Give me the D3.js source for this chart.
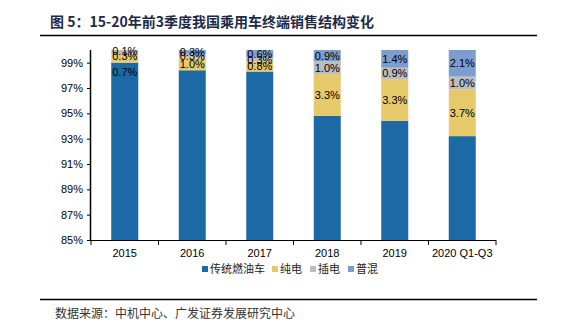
<!DOCTYPE html>
<html><head><meta charset="utf-8">
<script src="https://cdn.jsdelivr.net/npm/d3@7"></script>
<style>body{margin:0;background:#fff}svg{display:block}</style>
</head><body>
<svg id="c" width="573" height="335"></svg>
<script>
const categories = ["2015","2016","2017","2018","2019","2020 Q1-Q3"];
const seriesNames = ["传统燃油车","纯电","插电","普混"];
const oilValues = [99.0, 98.4, 98.3, 94.8, 94.4, 93.2];
const evValues  = [0.7, 1.0, 0.8, 3.3, 3.3, 3.7];
const phevValues= [0.3, 0.3, 0.3, 1.0, 0.9, 1.0];
const hevValues = [0.1, 0.3, 0.6, 0.9, 1.4, 2.1];
const yTicks = [85,87,89,91,93,95,97,99];
const colors = ["#1b6aa5","#e6c96b","#bdbdbd","#7d9dcf"];
const seriesValues = [oilValues, evValues, phevValues, hevValues];

(function(){
const svg = d3.select("#c");
const pLeft = 91, pRight = 496, pTop = 50, pBottom = 240;
const font = "'Liberation Sans', Arial, sans-serif";
const cjk = "'Noto Sans CJK SC', sans-serif";

// Title
svg.append("text").attr("x",50).attr("y",27).attr("font-family",cjk)
  .attr("font-size",14).attr("font-weight","bold").attr("fill","#1c2b4a")
  .text("图 5：15-20年前3季度我国乘用车终端销售结构变化");
svg.append("line").attr("x1",40).attr("x2",537).attr("y1",35.5).attr("y2",35.5)
  .attr("stroke","#000").attr("stroke-width",1.5);

const x = d3.scaleBand().domain(categories).range([pLeft,pRight]).paddingInner(0.6).paddingOuter(0.3);
const xOuter = d3.scaleBand().domain(categories).range([pLeft,pRight]);
const y = d3.scaleLinear().domain([85,100]).range([pBottom,pTop]);

const rows = categories.map((c,i)=>{const r={cat:c}; seriesNames.forEach((s,j)=>r[s]=seriesValues[j][i]); return r;});
const stacked = d3.stack().keys(seriesNames)(rows);

svg.append("defs").append("clipPath").attr("id","plot")
  .append("rect").attr("x",pLeft).attr("y",pTop).attr("width",pRight-pLeft).attr("height",pBottom-pTop);

const g = svg.append("g").attr("clip-path","url(#plot)");
stacked.forEach((layer,j)=>{
  g.selectAll(null).data(layer).enter().append("rect")
    .attr("x",d=>x(d.data.cat))
    .attr("width",x.bandwidth())
    .attr("y",d=>y(Math.min(d[1],100)))
    .attr("height",d=>Math.max(0,y(Math.min(d[0],100))-y(Math.min(d[1],100))))
    .attr("fill",colors[j]);
});

// Axes
const yAxis = d3.axisLeft(y).tickValues(yTicks).tickFormat(d=>d+"%").tickSize(4).tickSizeOuter(0);
const ya = svg.append("g").attr("transform",`translate(${pLeft},0)`).call(yAxis);
ya.select(".domain").attr("d",`M-0.5,${pTop}V${pBottom}`).attr("stroke","#000").attr("stroke-width",1.5);
ya.selectAll("text").attr("font-family",font).attr("font-size",11).attr("fill","#000").attr("x",-8);
ya.selectAll(".tick line").attr("stroke","#000");

const xa = svg.append("g").attr("transform",`translate(0,${pBottom})`);
xa.append("line").attr("x1",pLeft-1).attr("x2",pRight).attr("y1",0.5).attr("y2",0.5).attr("stroke","#000").attr("stroke-width",1.2);
const bounds = categories.map(c=>xOuter(c)).concat([pRight]);
xa.selectAll(null).data(bounds).enter().append("line")
  .attr("x1",d=>d).attr("x2",d=>d).attr("y1",0).attr("y2",5).attr("stroke","#000");
xa.selectAll(null).data(categories).enter().append("text")
  .attr("x",d=>xOuter(d)+xOuter.bandwidth()/2).attr("y",17)
  .attr("text-anchor","middle").attr("font-family",font).attr("font-size",11).attr("fill","#000")
  .text(d=>d);

// Labels
const labelShift = {"2015|纯电": 14, "2015|插电": 4, "2015|普混": 0};
stacked.forEach((layer,j)=>{
  layer.forEach(d=>{
    const lo = Math.min(d[0],100), hi = Math.min(d[1],100);
    let cy = (y(lo)+y(hi))/2;
    if (j===3 && hi-lo<0.2) cy = y(100)+1;
    cy += labelShift[d.data.cat+"|"+seriesNames[j]] || 0;
    svg.append("text").attr("x",x(d.data.cat)+x.bandwidth()/2).attr("y",cy+4)
      .attr("text-anchor","middle").attr("font-family",font).attr("font-size",11).attr("fill","#000")
      .text(seriesValues[j][categories.indexOf(d.data.cat)].toFixed(1)+"%");
  });
});

// Legend
const legendX = [202, 272, 310, 348];
const lg = svg.append("g");
seriesNames.forEach((s,j)=>{
  lg.append("rect").attr("x",legendX[j]).attr("y",266).attr("width",6).attr("height",6).attr("fill",colors[j]);
  lg.append("text").attr("x",legendX[j]+8).attr("y",273).attr("font-family",cjk).attr("font-size",11).attr("fill","#222").text(s);
});

// Footer
svg.append("line").attr("x1",40).attr("x2",537).attr("y1",299.5).attr("y2",299.5).attr("stroke","#000").attr("stroke-width",1.5);
svg.append("text").attr("x",55).attr("y",318).attr("font-family",cjk).attr("font-size",12).attr("fill","#333")
  .text("数据来源：中机中心、广发证券发展研究中心");
})();
</script>
</body></html>
